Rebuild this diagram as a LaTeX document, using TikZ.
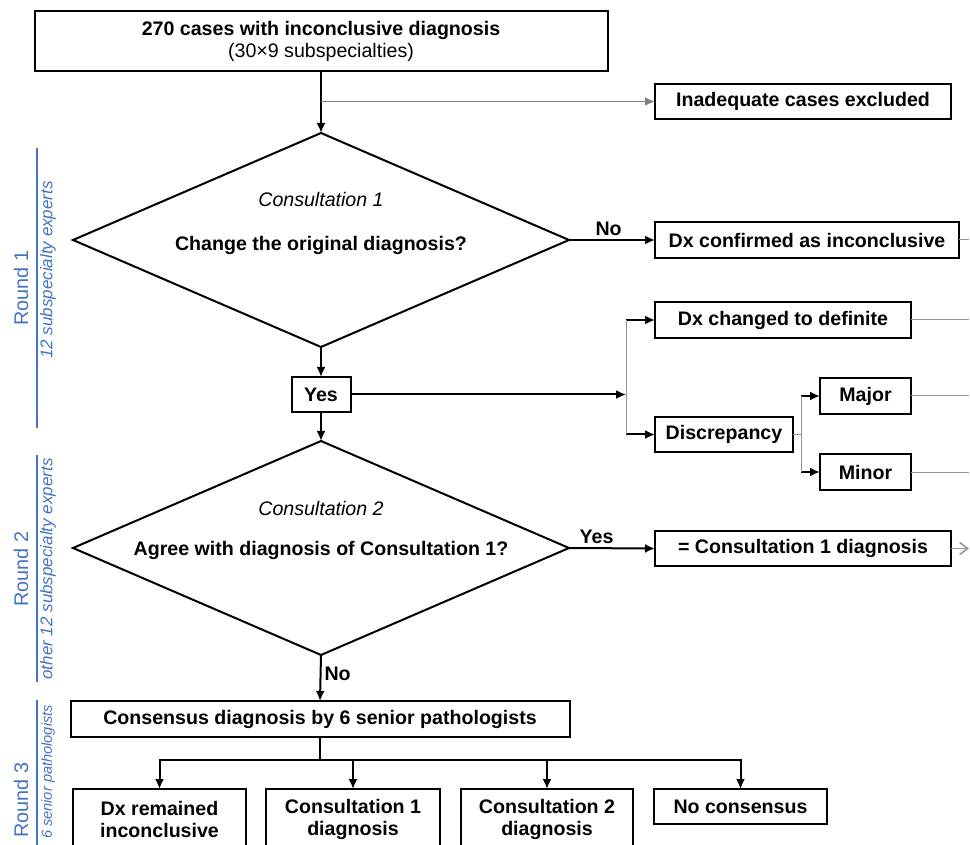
\documentclass[tikz,border=0pt]{standalone}
\usepackage{fontspec}
\setmainfont{Liberation Sans}
\usetikzlibrary{arrows.meta}
\usetikzlibrary{calc}
\tikzset{>={Latex[length=5pt,width=4.5pt]}}
\definecolor{roundblue}{RGB}{68,114,196}
\definecolor{sidegray}{RGB}{150,150,150}
\usetikzlibrary{quotes,shapes.geometric}

\begin{document}
\begin{tikzpicture}[x=0.5pt, y=-0.5pt, line width=1pt,
  every node/.style={font=\fontsize{9.8}{11}\selectfont\bfseries, inner sep=0pt, outer sep=0pt},
  every edge quotes/.append style={auto, text=black, inner sep=2pt},
  box/.style={draw, minimum width=#1, minimum height=18pt, align=center},
  decision/.style={draw, diamond, minimum width=248pt, minimum height=107pt},
  subtitle/.style={font=\fontsize{9.8}{11}\selectfont\itshape},
  roundlabel/.style={rotate=90, text=roundblue, font=\fontsize{9.9}{11}\selectfont},
  roundsub/.style={rotate=90, text=roundblue, font=\fontsize{8.5}{10}\selectfont\itshape},
  sideline/.style={draw=sidegray, line width=0.5pt}]
  \useasboundingbox (0,0) rectangle (970,845);
  \clip (0,0) rectangle (970,845);
  \coordinate (rim) at (969,0);
  \node [box=286.5pt, minimum height=30pt] (cases) at (321,41) {270 cases with inconclusive diagnosis\\{\mdseries (30×9 subspecialties)}};
  \node [box=148pt, minimum height=17.5pt] (excl) at (803,101.5) {Inadequate cases excluded};
  \node [decision] (consult1) at (321,240) {};
  \node [subtitle] (c1title) at (321,199) {Consultation 1};
  \node (c1q) at (321,245) {Change the original diagnosis?};
  \node [box=152pt] (confirmed) at (807,240) {Dx confirmed as inconclusive};
  \node [box=29.5pt, minimum height=17.5pt] (yes) at (321,394.5) {Yes};
  \node [box=128pt] (definite) at (783,320) {Dx changed to definite};
  \node [box=69pt, minimum height=17.5pt] (discrepancy) at (724,434.5) {Discrepancy};
  \node [box=45.5pt] (major) at (865.5,396) {Major};
  \node [box=45.5pt] (minor) at (865.5,472) {Minor};
  \node [decision] (consult2) at (321,548) {};
  \node [subtitle] (c2title) at (321,508) {Consultation 2};
  \node (c2q) at (321,550) {Agree with diagnosis of Consultation 1?};
  \node [box=148pt, minimum height=17.5pt] (agree) at (803,548.5) {= Consultation 1 diagnosis};
  \node [box=249.5pt] (consensus) at (320,719) {Consensus diagnosis by 6 senior pathologists};
  \node [box=86.5pt, minimum height=30pt] (dxr) at (159.5,819) {Dx remained\\inconclusive};
  \node [box=87pt, minimum height=30pt] (c1dx) at (353,819) {Consultation 1\\diagnosis};
  \node [box=86pt, minimum height=30pt] (c2dx) at (547,819) {Consultation 2\\diagnosis};
  \node [box=86.5pt, minimum height=17.5pt] (nocons) at (740.5,806.5) {No consensus};
  \node [roundlabel] (r1) at (21,288) {Round 1};
  \node [roundsub] (r1sub) at (48,270) {12 subspecialty experts};
  \node [roundlabel] (r2) at (21,569) {Round 2};
  \node [roundsub] (r2sub) at (48,569) {other 12 subspecialty experts};
  \node [roundlabel] (r3) at (21,800) {Round 3};
  \node [roundsub, font=\fontsize{7.3}{9}\selectfont\itshape] (r3sub) at (48,772) {6 senior pathologists};
  \draw [roundblue] (37,148) -- (37,428) (37,455) -- (37,682) (37,700) -- (37,850);
  \coordinate (excljoin) at (cases.south |- excl);
  \coordinate (split1) at (626,394.5);
  \coordinate (split2) at (801,434.5);
  \coordinate (hub) at ($(consensus.south)+(0,23)$);
  \draw [->] (cases.south) -- (consult1.north);
  \draw [->, draw=gray, line width=0.9pt] (excljoin) -- (excl.west);
  \path [every edge/.append style={draw, ->}]
  (consult1.east) edge ["No", pos=0.46] (confirmed.west)
  (consult1.south) edge (yes.north)
  (yes.south) edge (consult2.north)
  (consult2.east) edge ["Yes", pos=0.32] (agree.west)
  (consult2.south) edge ["No", pos=0.42] (consensus.north)
  (yes.east) edge (split1)
  (split1 |- definite) edge (definite.west)
  (split1 |- discrepancy) edge (discrepancy.west)
  (split2 |- major) edge (major.west)
  (split2 |- minor) edge (minor.west);
  \draw [sideline] (split1 |- definite) -- (split1 |- discrepancy)
  (discrepancy.east) -- (split2) (split2 |- major) -- (split2 |- minor);
  \foreach \n in {confirmed,definite,major,minor}
    \draw [sideline] (\n.east) -- (\n.east -| rim);
  \draw [sideline, -{Straight Barb[length=4pt,width=6pt]}, line width=0.8pt] (agree.east) -- (agree.east -| rim);
  \draw (consensus.south) -- (hub);
  \foreach \n in {dxr,c1dx,c2dx,nocons}
    \draw [->] (hub) -| (\n.north);
\end{tikzpicture}
\end{document}
